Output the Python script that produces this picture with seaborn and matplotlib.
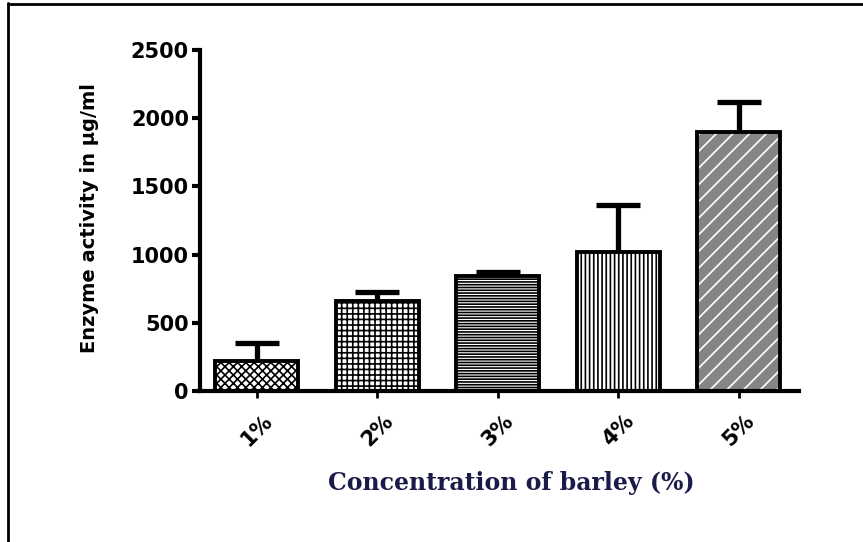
import matplotlib
matplotlib.use("Agg")
import matplotlib.pyplot as plt
import seaborn as sns
import pandas as pd
import numpy as np
from matplotlib.lines import Line2D

# ---- data ----
categories = ["1%", "2%", "3%", "4%", "5%"]
means = [220, 662, 843, 1021, 1901]
errors = [132, 64, 32, 343, 216]
y_ticks = [0, 500, 1000, 1500, 2000, 2500]

hatches = ["xxxx", "+++", "------", "||||", "//"]
faces = ["white", "white", "white", "white", "#858585"]
hatch_colors = ["black", "black", "black", "black", "white"]

sns.set_theme(style="ticks")
plt.rcParams['font.family'] = ['DejaVu Sans']
plt.rcParams['hatch.linewidth'] = 1.2
plt.rcParams['text.color'] = 'black'
plt.rcParams['axes.labelcolor'] = 'black'
plt.rcParams['xtick.color'] = 'black'
plt.rcParams['ytick.color'] = 'black'
plt.rcParams['axes.edgecolor'] = 'black'

df = pd.DataFrame({"conc": categories, "activity": means})

fig = plt.figure(figsize=(8.63, 5.42), dpi=100)
ax = fig.add_axes([200 / 863, 1 - 391 / 542, 599 / 863, 341 / 542])

# hatched fills
sns.barplot(data=df, x="conc", y="activity", order=categories, width=0.69,
            color="white", linewidth=0, errorbar=None, ax=ax)
n = len(ax.patches)
for p, h, fc, hc in zip(ax.patches, hatches, faces, hatch_colors):
    p.set_facecolor(fc)
    p.set_edgecolor(hc)
    p.set_linewidth(0)
    p.set_hatch(h)

# outlines
sns.barplot(data=df, x="conc", y="activity", order=categories, width=0.69,
            color="white", errorbar=None, ax=ax)
for p in ax.patches[n:]:
    p.set_facecolor("none")
    p.set_edgecolor("black")
    p.set_linewidth(2.8)

x = np.arange(len(categories))
_, caplines, _ = ax.errorbar(x, means, yerr=[np.zeros(len(errors)), errors], fmt="none",
                             ecolor="black", elinewidth=3.8, capsize=16, capthick=3.8, zorder=5)
for cl in caplines:
    if np.allclose(np.asarray(cl.get_ydata(), dtype=float), np.asarray(means, dtype=float)):
        cl.set_visible(False)

ax.set_ylim(0, 2500)
ax.set_yticks(y_ticks)
ax.set_xlim(-0.47, 4.5)
sns.despine(ax=ax)
for s in ["left", "bottom"]:
    ax.spines[s].set_linewidth(3)

ax.tick_params(axis="y", length=6, width=3, labelsize=15, pad=2)
ax.tick_params(axis="x", length=5, width=2, labelsize=15, pad=9)
for t in ax.get_yticklabels():
    t.set_fontweight("heavy")
ax.set_xticks(x)
ax.set_xticklabels(categories, rotation=45, fontweight="heavy", ha="center")

ax.set_ylabel("Enzyme activity in µg/ml", fontsize=14, fontweight="heavy")
ax.yaxis.set_label_coords(-0.169, 0.507)
ax.set_xlabel("Concentration of barley (%)", fontsize=17, fontweight="bold",
              family="DejaVu Serif", color="#1b1b4a", va="center")
ax.xaxis.set_label_coords(0.519, -0.27)

# outer frame lines (left and top)
fig.add_artist(Line2D([8 / 863, 8 / 863], [0, 1 - 3 / 542],
                      transform=fig.transFigure, color="black", lw=2))
fig.add_artist(Line2D([8 / 863, 1], [1 - 4 / 542, 1 - 4 / 542],
                      transform=fig.transFigure, color="black", lw=2))

fig.savefig("out.png", dpi=100)
